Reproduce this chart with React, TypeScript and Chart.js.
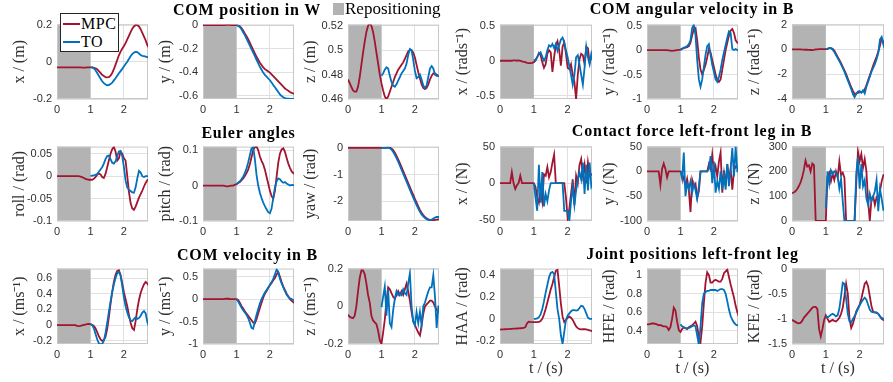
import React, { useEffect, useRef } from "react";
import { Chart, registerables } from "chart.js";
Chart.register(...registerables);

// ---------------- data ----------------
const T = [0, 0.05, 0.1, 0.15, 0.2, 0.25, 0.3, 0.35, 0.4, 0.45, 0.5, 0.55, 0.6, 0.65, 0.7, 0.75, 0.8, 0.85, 0.9, 0.95, 1, 1.05, 1.1, 1.15, 1.2, 1.25, 1.3, 1.35, 1.4, 1.45, 1.5, 1.55, 1.6, 1.65, 1.7, 1.75, 1.8, 1.85, 1.9, 1.95, 2, 2.05, 2.1, 2.15, 2.2, 2.25, 2.3, 2.35, 2.4, 2.45, 2.5, 2.55, 2.6, 2.65, 2.7, 2.75];
const TO_START = 20; // TO series starts at t = 1 s
const REPOSITIONING = [0, 1];
const X_TICKS = [0, 1, 2];
const X_RANGE = [0, 2.72];

// COM position in W
const POS_X_MPC = [-0.03, -0.03, -0.03, -0.03, -0.03, -0.03, -0.03, -0.03, -0.03, -0.03, -0.03, -0.03, -0.03, -0.03, -0.03, -0.031, -0.031, -0.031, -0.03, -0.03, -0.03, -0.03, -0.032, -0.035, -0.04, -0.05, -0.06, -0.07, -0.077, -0.082, -0.084, -0.083, -0.075, -0.06, -0.04, -0.015, 0.01, 0.035, 0.055, 0.07, 0.085, 0.1, 0.12, 0.14, 0.16, 0.178, 0.19, 0.198, 0.197, 0.19, 0.175, 0.155, 0.135, 0.115, 0.09, 0.075];
const POS_X_TO = [-0.03, -0.03, -0.035, -0.045, -0.06, -0.075, -0.09, -0.105, -0.115, -0.122, -0.126, -0.125, -0.12, -0.112, -0.1, -0.088, -0.075, -0.062, -0.05, -0.038, -0.025, -0.012, 0, 0.015, 0.03, 0.042, 0.05, 0.053, 0.052, 0.045, 0.037, 0.032, 0.03, 0.028, 0.025, 0.024];
const POS_X_TICKS = [-0.2, 0, 0.2];
const POS_X_RANGE = [-0.2, 0.2];

const POS_Y_MPC = [0, 0, 0, 0, 0, 0, 0, 0, 0, 0, 0, 0, 0, 0, 0.002, 0.002, 0.002, 0.001, 0, 0, 0, -0.003, -0.01, -0.025, -0.045, -0.07, -0.095, -0.12, -0.15, -0.18, -0.21, -0.24, -0.27, -0.295, -0.32, -0.34, -0.36, -0.375, -0.385, -0.395, -0.405, -0.42, -0.435, -0.45, -0.465, -0.48, -0.495, -0.51, -0.525, -0.54, -0.55, -0.56, -0.57, -0.578, -0.583, -0.588];
const POS_Y_TO = [0, -0.005, -0.015, -0.035, -0.06, -0.085, -0.115, -0.145, -0.175, -0.205, -0.235, -0.265, -0.295, -0.325, -0.355, -0.38, -0.405, -0.425, -0.44, -0.455, -0.47, -0.49, -0.51, -0.53, -0.55, -0.57, -0.59, -0.605, -0.615, -0.622, -0.626, -0.628, -0.63, -0.63, -0.63, -0.63];
const POS_Y_TICKS = [-0.6, -0.4, -0.2, 0];
const POS_Y_RANGE = [-0.63, 0.005];

const POS_Z_MPC = [0.476, 0.473, 0.47, 0.467, 0.466, 0.466, 0.47, 0.478, 0.488, 0.498, 0.507, 0.515, 0.52, 0.522, 0.52, 0.515, 0.507, 0.498, 0.489, 0.48, 0.473, 0.467, 0.462, 0.46, 0.462, 0.466, 0.47, 0.474, 0.478, 0.481, 0.484, 0.486, 0.488, 0.49, 0.493, 0.496, 0.499, 0.5, 0.5, 0.498, 0.494, 0.488, 0.482, 0.477, 0.472, 0.469, 0.468, 0.469, 0.472, 0.476, 0.479, 0.481, 0.481, 0.48, 0.479, 0.479];
const POS_Z_TO = [0.479, 0.481, 0.484, 0.486, 0.485, 0.479, 0.474, 0.471, 0.47, 0.472, 0.475, 0.478, 0.481, 0.483, 0.485, 0.489, 0.496, 0.501, 0.5, 0.492, 0.483, 0.477, 0.478, 0.48, 0.476, 0.471, 0.469, 0.471, 0.478, 0.485, 0.487, 0.485, 0.48, 0.479, 0.479, 0.479];
const POS_Z_TICKS = [0.46, 0.48, 0.5, 0.52];
const POS_Z_RANGE = [0.46, 0.521];

// COM angular velocity in B
const ANG_X_MPC = [0, 0, 0, 0, 0, 0, 0, 0, 0.005, 0.005, 0, 0.005, 0, -0.01, -0.015, -0.02, -0.03, -0.035, -0.035, -0.03, -0.02, 0, 0.05, 0.11, 0.08, -0.02, -0.1, -0.05, 0.1, 0.15, 0.12, -0.16, 0.05, 0.22, 0.28, 0.15, -0.07, 0.2, 0.26, 0.1, -0.1, -0.12, -0.05, -0.2, -0.3, -0.55, -0.2, 0.02, 0.1, 0.08, -0.05, 0.2, 0.18, -0.03, 0.05, 0.02];
const ANG_X_TO = [0, 0.02, 0.05, 0.1, 0.12, 0.06, 0, 0.05, 0.15, 0.22, 0.2, 0.24, 0.18, 0.24, 0.14, 0.22, 0.3, 0.33, 0.26, 0.15, 0.05, -0.08, -0.2, -0.34, -0.2, 0.05, 0.08, -0.05, -0.2, -0.34, -0.1, 0.2, 0.05, -0.05, 0.1, 0];
const ANG_X_TICKS = [-0.5, 0, 0.5];
const ANG_X_RANGE = [-0.545, 0.515];

const ANG_Y_MPC = [0, 0, 0, 0, 0, 0, 0, 0, 0, 0, 0, 0, 0, -0.005, -0.01, -0.015, -0.01, -0.005, 0, 0.005, 0.01, 0.03, 0.04, 0.05, 0.06, 0.08, 0.15, 0.3, 0.43, 0.45, 0.2, -0.15, -0.4, -0.5, -0.4, -0.3, -0.15, 0.02, -0.05, -0.2, -0.35, -0.5, -0.6, -0.65, -0.6, -0.4, -0.2, 0, 0.15, 0.3, 0.4, 0.43, 0.35, 0.2, 0.15, 0.14];
const ANG_Y_TO = [0, 0.02, 0.05, 0.06, 0.08, 0.12, 0.2, 0.45, 0.52, 0.3, -0.2, -0.6, -0.75, -0.6, -0.35, -0.1, 0.08, 0.12, -0.1, -0.3, -0.45, -0.6, -0.65, -0.55, -0.4, -0.2, -0.05, 0.1, 0.25, 0.38, 0.35, 0.02, 0, 0.02, 0, 0];
const ANG_Y_TICKS = [-1, -0.5, 0, 0.5];
const ANG_Y_RANGE = [-1, 0.52];

const ANG_Z_MPC = [0, 0, 0, 0, 0, 0, -0.01, -0.02, -0.03, -0.03, -0.04, -0.05, -0.05, -0.03, 0, 0.01, 0.02, 0.03, 0.03, 0.02, 0.02, 0.05, 0.1, 0.1, 0.05, -0.1, -0.35, -0.6, -0.85, -1.1, -1.4, -1.7, -2, -2.35, -2.7, -3.05, -3.35, -3.6, -3.55, -3.5, -3.45, -3.45, -3.4, -3.25, -2.9, -2.5, -2.1, -1.7, -1.3, -0.95, -0.6, -0.2, 0.3, 0.9, 0.6, 0.25];
const ANG_Z_TO = [0.02, 0.05, 0.12, 0.1, 0, -0.2, -0.45, -0.7, -0.95, -1.2, -1.5, -1.8, -2.15, -2.5, -2.85, -3.2, -3.6, -3.85, -3.6, -3.4, -3.35, -3.5, -3.3, -3.55, -3, -2.6, -2.2, -1.8, -1.5, -1.2, -0.8, -0.3, 0.8, 1, 0.4, 0];
const ANG_Z_TICKS = [-4, -2, 0, 2];
const ANG_Z_RANGE = [-4, 2];

// Euler angles
const ROLL_MPC = [0, 0, 0, 0, 0, 0, 0, 0, 0, 0, 0, 0, 0, 0, -0.001, -0.002, -0.004, -0.006, -0.007, -0.008, -0.008, -0.008, -0.006, -0.002, 0.003, 0.006, 0.004, -0.002, -0.004, 0.005, 0.02, 0.035, 0.05, 0.06, 0.065, 0.055, 0.035, 0.04, 0.055, 0.05, 0.04, 0.035, 0, -0.035, -0.06, -0.072, -0.075, -0.068, -0.058, -0.048, -0.04, -0.032, -0.023, -0.015, -0.009, -0.007];
const ROLL_TO = [0, 0.001, 0.002, 0.003, 0.005, 0.01, 0.015, 0.02, 0.028, 0.038, 0.045, 0.046, 0.038, 0.03, 0.028, 0.033, 0.045, 0.055, 0.056, 0.045, 0.02, -0.01, -0.025, -0.03, -0.033, -0.036, -0.037, -0.025, -0.005, 0.012, 0.008, 0, -0.002, 0, 0, 0];
const ROLL_TICKS = [-0.1, -0.05, 0, 0.05];
const ROLL_RANGE = [-0.1, 0.066];

const PITCH_MPC = [0, 0, 0, 0, 0, 0, 0, 0, 0, 0, 0, 0, 0, -0.001, -0.002, -0.002, -0.001, 0, 0, 0.002, 0.004, 0.007, 0.01, 0.015, 0.02, 0.027, 0.035, 0.045, 0.06, 0.08, 0.1, 0.108, 0.11, 0.1, 0.082, 0.07, 0.06, 0.045, 0.025, 0.005, -0.015, -0.03, -0.037, -0.015, 0.025, 0.065, 0.09, 0.102, 0.105, 0.095, 0.078, 0.062, 0.05, 0.04, 0.035, 0.033];
const PITCH_TO = [0.004, 0.008, 0.012, 0.018, 0.025, 0.035, 0.048, 0.065, 0.085, 0.105, 0.108, 0.075, 0.03, 0, -0.02, -0.035, -0.048, -0.058, -0.067, -0.075, -0.078, -0.065, -0.035, -0.005, 0.012, 0.02, 0.018, 0.012, 0.008, 0.01, 0.006, 0.003, 0, 0.002, 0.001, 0];
const PITCH_TICKS = [-0.1, 0, 0.1];
const PITCH_RANGE = [-0.1, 0.11];

const YAW_MPC = [0, 0, 0, 0, 0, 0, 0, 0, 0, 0, 0, 0, 0, 0, 0, 0, 0, 0, 0, 0, 0, 0, 0.005, 0.01, 0.01, 0.01, -0.02, -0.08, -0.18, -0.3, -0.43, -0.57, -0.72, -0.87, -1.02, -1.17, -1.32, -1.47, -1.62, -1.77, -1.92, -2.06, -2.2, -2.33, -2.44, -2.53, -2.6, -2.65, -2.69, -2.71, -2.72, -2.72, -2.71, -2.7, -2.69, -2.68];
const YAW_TO = [0, 0, 0, 0.005, 0.01, -0.01, -0.06, -0.15, -0.26, -0.38, -0.52, -0.67, -0.82, -0.97, -1.12, -1.27, -1.42, -1.57, -1.72, -1.87, -2.01, -2.15, -2.28, -2.4, -2.5, -2.58, -2.64, -2.68, -2.71, -2.72, -2.7, -2.66, -2.62, -2.6, -2.6, -2.6];
const YAW_TICKS = [-2, -1, 0];
const YAW_RANGE = [-2.75, 0.05];

// Contact force left-front leg in B
const FX_MPC = [0, 0, 0, 0, 0, 0, 0, 15, 0, -8, -3, 0, 10, 0, 0, 0, 0, 0, 0, 0, 0, -5, -20, -27, -10, -25, 12, 10, 22, 8, 15, 28, 39, 0, 0, 0, 0, 0, 0, -20, -48, -35, -15, 5, -30, 10, 0, 25, 33, 10, 25, 0, 28, 10, 12, 10];
const FX_TO = [0, -20, -38, 25, -27, 15, -32, -15, -25, -10, 0, 0, 0, 0, 0, 0, 0, 0, -38, -38, -38, -52, -25, -5, -30, -10, 5, 15, 5, 28, -15, 25, -10, 28, -5, 0];
const FX_TICKS = [-50, 0, 50];
const FX_RANGE = [-52, 50];

const FY_MPC = [0, 0, 0, 0, 0, 0, 0, 0, -27, 5, 16, 5, -12, 0, 0, 0, 0, 0, 0, 0, 0, -5, -15, -30, -15, -37, -82, -17, -30, -25, -53, -40, 0, 0, 0, 0, 0, 15, 5, 34, -5, 10, -10, 20, 38, -43, 2, -30, 15, -17, 5, -37, 2, 10, 8, 8];
const FY_TO = [0, -15, 38, -50, -25, -35, -20, -43, -25, -38, -55, -30, 0, 0, 0, 0, 0, 5, 31, -24, 20, -43, -20, -35, 0, -37, -5, -37, 15, -30, 5, 47, -10, 50, 0, 0];
const FY_TICKS = [-100, -50, 0, 50];
const FY_RANGE = [-100, 50];

const FZ_MPC = [112, 115, 120, 128, 140, 155, 175, 205, 244, 220, 225, 200, 232, 225, 0, 0, 0, 0, 0, 0, 0, 180, 195, 160, 190, 165, 200, 175, 240, 185, 195, 175, 0, 0, 0, 0, 0, 0, 150, 280, 240, 270, 215, 250, 200, 80, 0, 90, 100, 65, 95, 85, 120, 160, 185, 185];
const FZ_TO = [50, 200, 150, 205, 190, 200, 195, 180, 130, 170, 80, 0, 0, 0, 0, 0, 0, 0, 193, 257, 130, 230, 140, 165, 90, 65, 110, 80, 100, 120, 165, 40, 130, 90, 45, 45];
const FZ_TICKS = [0, 100, 200, 300];
const FZ_RANGE = [0, 300];

// COM velocity in B
const VEL_X_MPC = [0, 0, 0, 0, 0, 0, 0, 0, 0, 0, 0, 0, -0.01, -0.012, -0.01, -0.003, 0.003, 0.008, 0.012, 0.015, 0.012, 0.005, -0.01, -0.04, -0.09, -0.14, -0.18, -0.2, -0.19, -0.15, -0.05, 0.1, 0.27, 0.42, 0.55, 0.64, 0.69, 0.7, 0.64, 0.53, 0.42, 0.33, 0.24, 0.13, 0.03, -0.04, -0.06, 0.05, 0.2, 0.32, 0.41, 0.47, 0.52, 0.55, 0.53, 0.5];
const VEL_X_TO = [0.012, 0, -0.04, -0.11, -0.18, -0.23, -0.245, -0.24, -0.2, -0.1, 0.03, 0.17, 0.3, 0.42, 0.52, 0.6, 0.66, 0.68, 0.63, 0.5, 0.35, 0.24, 0.16, 0.1, 0.06, 0.05, 0.08, 0.1, 0.08, 0.09, 0.12, 0.16, 0.18, 0.15, 0.04, -0.02];
const VEL_X_TICKS = [-0.2, 0, 0.2, 0.4, 0.6];
const VEL_X_RANGE = [-0.24, 0.72];

const VEL_Y_MPC = [0, 0, 0, 0, 0, 0, 0, 0, 0, 0, 0, 0, 0, 0.005, 0.01, 0.008, 0.003, 0, 0, 0, 0, -0.02, -0.08, -0.15, -0.21, -0.27, -0.32, -0.37, -0.42, -0.47, -0.52, -0.54, -0.45, -0.32, -0.2, -0.08, 0.03, 0.12, 0.18, 0.25, 0.31, 0.36, 0.42, 0.47, 0.55, 0.6, 0.5, 0.38, 0.28, 0.2, 0.12, 0.06, 0, -0.04, -0.07, -0.09];
const VEL_Y_TO = [0, -0.05, -0.12, -0.19, -0.25, -0.3, -0.35, -0.42, -0.52, -0.64, -0.66, -0.5, -0.35, -0.22, -0.1, 0, 0.08, 0.15, 0.2, 0.26, 0.32, 0.38, 0.45, 0.55, 0.66, 0.6, 0.45, 0.35, 0.26, 0.18, 0.1, 0.05, 0.02, 0, -0.02, -0.03];
const VEL_Y_TICKS = [-1, -0.5, 0, 0.5];
const VEL_Y_RANGE = [-1, 0.68];

const VEL_Z_MPC = [-0.045, -0.055, -0.06, -0.063, -0.05, 0, 0.08, 0.15, 0.19, 0.19, 0.17, 0.12, 0.06, 0.02, -0.05, -0.075, -0.085, -0.095, -0.13, -0.18, -0.2, -0.14, -0.07, 0.03, 0.1, 0.09, 0.07, 0.05, 0.04, 0.06, 0.08, 0.06, 0.08, 0.06, 0.09, 0.12, 0.08, 0.03, -0.03, -0.08, -0.1, -0.12, -0.14, -0.155, -0.1, -0.04, 0, 0.01, 0.02, 0.03, 0.03, 0.02, 0, -0.02, -0.03, -0.03];
const VEL_Z_TO = [-0.005, 0.05, 0.105, -0.05, 0.09, -0.09, -0.11, -0.02, 0.04, 0.08, 0.06, 0.07, 0.06, 0.09, 0.07, 0.06, 0.12, 0.175, 0, -0.08, -0.1, -0.03, -0.09, -0.03, -0.1, 0, 0.02, 0.05, 0.08, 0.1, 0.1, 0.165, 0.05, -0.115, 0, 0];
const VEL_Z_TICKS = [-0.2, 0, 0.2];
const VEL_Z_RANGE = [-0.2, 0.2];

// Joint positions left-front leg
const HAA_MPC = [-0.098, -0.097, -0.096, -0.095, -0.094, -0.093, -0.092, -0.091, -0.09, -0.089, -0.088, -0.087, -0.086, -0.085, -0.083, -0.075, -0.04, -0.025, -0.028, -0.03, -0.03, -0.03, -0.03, -0.028, -0.02, 0, 0.04, 0.09, 0.15, 0.21, 0.27, 0.32, 0.38, 0.44, 0.45, 0.3, 0.14, 0.02, -0.03, -0.01, 0.01, 0.02, 0.01, -0.01, -0.04, -0.07, -0.085, -0.095, -0.097, -0.095, -0.095, -0.096, -0.1, -0.105, -0.11, -0.112];
const HAA_TO = [0, 0, 0.005, 0.015, 0.04, 0.09, 0.16, 0.24, 0.31, 0.38, 0.42, 0.43, 0.41, 0.25, 0.09, 0, -0.15, -0.23, -0.12, -0.01, 0.03, 0.05, 0.07, 0.08, 0.08, 0.075, 0.08, 0.1, 0.12, 0.115, 0.09, 0.05, 0.01, 0, 0, 0];
const HAA_TICKS = [-0.2, 0, 0.2, 0.4];
const HAA_RANGE = [-0.23, 0.46];

const HFE_MPC = [0.47, 0.47, 0.475, 0.48, 0.48, 0.475, 0.47, 0.46, 0.465, 0.455, 0.45, 0.45, 0.44, 0.41, 0.44, 0.53, 0.65, 0.62, 0.5, 0.41, 0.39, 0.42, 0.44, 0.43, 0.42, 0.44, 0.45, 0.46, 0.48, 0.5, 0.45, 0.33, 0.28, 0.45, 0.7, 0.92, 1.03, 1, 0.92, 0.92, 0.94, 0.95, 0.94, 0.93, 0.93, 0.96, 1.02, 1.04, 1.06, 0.98, 0.9, 0.83, 0.76, 0.67, 0.6, 0.55];
const HFE_TO = [0.47, 0.45, 0.44, 0.43, 0.43, 0.43, 0.44, 0.45, 0.46, 0.45, 0.35, 0.25, 0.45, 0.7, 0.8, 0.82, 0.83, 0.83, 0.84, 0.84, 0.84, 0.84, 0.83, 0.84, 0.85, 0.85, 0.84, 0.8, 0.72, 0.63, 0.56, 0.52, 0.49, 0.47, 0.46, 0.46];
const HFE_TICKS = [0.4, 0.6, 0.8, 1];
const HFE_RANGE = [0.26, 1.07];

const KFE_MPC = [-1.02, -1.04, -1.06, -1.08, -1.09, -1.08, -1.04, -0.98, -0.94, -0.9, -0.86, -0.82, -0.78, -0.76, -0.76, -0.8, -1.2, -1.35, -1.2, -1.02, -0.93, -1, -1.06, -1.04, -1.02, -1.04, -1.05, -1.02, -0.98, -0.9, -0.78, -0.55, -0.3, -0.5, -1, -1.18, -1.1, -0.98, -0.85, -0.78, -0.72, -0.6, -0.45, -0.3, -0.26, -0.35, -0.55, -0.75, -0.86, -0.87, -0.88, -0.9, -0.95, -1, -1.02, -1.03];
const KFE_TO = [-0.95, -0.97, -0.95, -0.92, -0.9, -0.92, -0.95, -0.93, -0.8, -0.55, -0.28, -0.3, -0.6, -0.9, -1.05, -1.07, -1, -0.95, -0.88, -0.8, -0.73, -0.67, -0.62, -0.58, -0.62, -0.72, -0.82, -0.86, -0.87, -0.87, -0.87, -0.9, -0.95, -0.98, -1, -1];
const KFE_TICKS = [-1.5, -1, -0.5, 0];
const KFE_RANGE = [-1.5, 0];

// ---------------- styling ----------------
const RED = "#A2142F";
const BLUE = "#0072BD";
const SHADE = "#b3b3b3";
const GRID = "#e0e0e0";
const FRAME = "#c8c8c8";
const TXT = "#303030";
const SERIF = "'Liberation Serif', 'Times New Roman', serif";
const SANS = "'Liberation Sans', Arial, sans-serif";

type PanelDef = { label: string; mpc: number[]; to: number[]; ticks: number[]; range: number[] };

const PANELS: PanelDef[][] = [
  [
    { label: "x / (m)", mpc: POS_X_MPC, to: POS_X_TO, ticks: POS_X_TICKS, range: POS_X_RANGE },
    { label: "y / (m)", mpc: POS_Y_MPC, to: POS_Y_TO, ticks: POS_Y_TICKS, range: POS_Y_RANGE },
    { label: "z / (m)", mpc: POS_Z_MPC, to: POS_Z_TO, ticks: POS_Z_TICKS, range: POS_Z_RANGE },
    { label: "x / (rads\u207B\u00B9)", mpc: ANG_X_MPC, to: ANG_X_TO, ticks: ANG_X_TICKS, range: ANG_X_RANGE },
    { label: "y / (rads\u207B\u00B9)", mpc: ANG_Y_MPC, to: ANG_Y_TO, ticks: ANG_Y_TICKS, range: ANG_Y_RANGE },
    { label: "z / (rads\u207B\u00B9)", mpc: ANG_Z_MPC, to: ANG_Z_TO, ticks: ANG_Z_TICKS, range: ANG_Z_RANGE },
  ],
  [
    { label: "roll / (rad)", mpc: ROLL_MPC, to: ROLL_TO, ticks: ROLL_TICKS, range: ROLL_RANGE },
    { label: "pitch / (rad)", mpc: PITCH_MPC, to: PITCH_TO, ticks: PITCH_TICKS, range: PITCH_RANGE },
    { label: "yaw / (rad)", mpc: YAW_MPC, to: YAW_TO, ticks: YAW_TICKS, range: YAW_RANGE },
    { label: "x / (N)", mpc: FX_MPC, to: FX_TO, ticks: FX_TICKS, range: FX_RANGE },
    { label: "y / (N)", mpc: FY_MPC, to: FY_TO, ticks: FY_TICKS, range: FY_RANGE },
    { label: "z / (N)", mpc: FZ_MPC, to: FZ_TO, ticks: FZ_TICKS, range: FZ_RANGE },
  ],
  [
    { label: "x / (ms\u207B\u00B9)", mpc: VEL_X_MPC, to: VEL_X_TO, ticks: VEL_X_TICKS, range: VEL_X_RANGE },
    { label: "y / (ms\u207B\u00B9)", mpc: VEL_Y_MPC, to: VEL_Y_TO, ticks: VEL_Y_TICKS, range: VEL_Y_RANGE },
    { label: "z / (ms\u207B\u00B9)", mpc: VEL_Z_MPC, to: VEL_Z_TO, ticks: VEL_Z_TICKS, range: VEL_Z_RANGE },
    { label: "HAA / (rad)", mpc: HAA_MPC, to: HAA_TO, ticks: HAA_TICKS, range: HAA_RANGE },
    { label: "HFE / (rad)", mpc: HFE_MPC, to: HFE_TO, ticks: HFE_TICKS, range: HFE_RANGE },
    { label: "KFE / (rad)", mpc: KFE_MPC, to: KFE_TO, ticks: KFE_TICKS, range: KFE_RANGE },
  ],
];

const TITLES = [
  { text: "COM position in W", cx: 247, cy: 10 },
  { text: "COM angular velocity in B", cx: 692, cy: 9 },
  { text: "Euler angles", cx: 248.5, cy: 132.5 },
  { text: "Contact force left-front leg in B", cx: 692, cy: 131 },
  { text: "COM velocity in B", cx: 247.5, cy: 255 },
  { text: "Joint positions left-front leg", cx: 692.5, cy: 254 },
];

const COL_LEFT = [57, 203, 348, 500, 647, 792];
const COL_W = [91, 91, 91, 92, 91, 92];
const ROW_TOP = [21, 143, 265];
const ROW_H = [78, 78, 79];

const YW = 60;
const PAD_T = 8;
const PAD_R = 8;

const shadeFrame = {
  id: "shadeFrame",
  beforeDatasetsDraw(chart: any) {
    const { ctx, chartArea, scales } = chart;
    const x0 = scales.x.getPixelForValue(REPOSITIONING[0]);
    const x1 = scales.x.getPixelForValue(REPOSITIONING[1]);
    ctx.save();
    ctx.fillStyle = SHADE;
    ctx.fillRect(x0, chartArea.top, x1 - x0, chartArea.bottom - chartArea.top);
    ctx.strokeStyle = FRAME;
    ctx.lineWidth = 1;
    ctx.strokeRect(chartArea.left + 0.5, chartArea.top + 0.5, chartArea.right - chartArea.left - 1, chartArea.bottom - chartArea.top - 1);
    ctx.restore();
  },
};

function Panel({ p, left, top, w, h, xTitle }: { p: PanelDef; left: number; top: number; w: number; h: number; xTitle: boolean }) {
  const ref = useRef<HTMLCanvasElement>(null);
  const XH = xTitle ? 40 : 22;
  const cw = w + YW + PAD_R;
  const ch = h + PAD_T + XH;
  useEffect(() => {
    const chart = new Chart(ref.current as HTMLCanvasElement, {
      type: "line",
      data: {
        datasets: [
          {
            label: "MPC",
            data: T.map((t, i) => ({ x: t, y: p.mpc[i] })),
            borderColor: RED,
            borderWidth: 1.8,
            pointRadius: 0,
            tension: 0,
            order: 1,
          },
          {
            label: "TO",
            data: T.slice(TO_START).map((t, i) => ({ x: t, y: p.to[i] })),
            borderColor: BLUE,
            borderWidth: 1.8,
            pointRadius: 0,
            tension: 0,
            order: 0,
          },
        ],
      },
      options: {
        responsive: false,
        maintainAspectRatio: false,
        animation: false,
        events: [],
        layout: { padding: { top: PAD_T, right: PAD_R, left: 0, bottom: 0 } },
        plugins: { legend: { display: false }, tooltip: { enabled: false } },
        scales: {
          x: {
            type: "linear",
            min: X_RANGE[0],
            max: X_RANGE[1],
            afterBuildTicks: (s: any) => {
              s.ticks = X_TICKS.map((v) => ({ value: v }));
            },
            afterFit: (s: any) => {
              s.height = XH;
            },
            grid: { color: GRID, drawTicks: false, lineWidth: 1 },
            border: { display: false },
            ticks: {
              padding: 4,
              maxRotation: 0,
              autoSkip: false,
              color: TXT,
              font: { family: SANS, size: 11 },
              callback: (v: any) => String(v),
            },
            title: {
              display: xTitle,
              text: "t / (s)",
              color: TXT,
              font: { family: SERIF, size: 16 },
              padding: { top: 0, bottom: 6 },
            },
          },
          y: {
            type: "linear",
            min: p.range[0],
            max: p.range[1],
            afterBuildTicks: (s: any) => {
              s.ticks = p.ticks.map((v) => ({ value: v }));
            },
            afterFit: (s: any) => {
              s.width = YW;
            },
            grid: { color: GRID, drawTicks: false, lineWidth: 1 },
            border: { display: false },
            ticks: {
              padding: 5,
              autoSkip: false,
              color: TXT,
              font: { family: SANS, size: 11 },
              callback: (v: any) => String(v),
            },
            title: {
              display: true,
              text: p.label,
              color: TXT,
              font: { family: SERIF, size: 16 },
              padding: { top: 13, bottom: 0 },
            },
          },
        },
      } as any,
      plugins: [shadeFrame],
    });
    return () => chart.destroy();
  }, []);
  return (
    <canvas
      ref={ref}
      width={cw}
      height={ch}
      style={{ position: "absolute", left: left - YW, top: top - PAD_T, width: cw, height: ch }}
    />
  );
}

export default function App() {
  return (
    <div
      style={{
        position: "absolute",
        left: 0,
        top: 0,
        width: 893,
        height: 382,
        overflow: "hidden",
        background: "#ffffff",
      }}
    >
      {PANELS.map((row, r) =>
        row.map((p, c) => (
          <Panel
            key={`${r}-${c}`}
            p={p}
            left={COL_LEFT[c]}
            top={ROW_TOP[r]}
            w={COL_W[c]}
            h={ROW_H[r]}
            xTitle={r === 2 && c >= 3}
          />
        ))
      )}
      {TITLES.map((t) => (
        <div
          key={t.text}
          style={{
            position: "absolute",
            left: t.cx,
            top: t.cy,
            transform: "translate(-50%, -50%)",
            whiteSpace: "nowrap",
            fontFamily: SERIF,
            fontWeight: "bold",
            fontSize: 16,
            letterSpacing: 0.8,
            lineHeight: 1,
            color: "#000",
          }}
        >
          {t.text}
        </div>
      ))}
      {/* Repositioning legend */}
      <div style={{ position: "absolute", left: 333, top: 3, width: 11, height: 12, background: SHADE }} />
      <div
        style={{
          position: "absolute",
          left: 345,
          top: 8,
          transform: "translateY(-50%)",
          whiteSpace: "nowrap",
          fontFamily: SERIF,
          fontSize: 17,
          lineHeight: 1,
          color: "#000",
        }}
      >
        Repositioning
      </div>
      {/* MPC / TO legend */}
      <div
        style={{
          position: "absolute",
          left: 60,
          top: 13,
          width: 59,
          height: 39,
          background: "#fff",
          border: "1px solid #262626",
          boxSizing: "border-box",
          zIndex: 2,
        }}
      >
        <div style={{ position: "absolute", left: 2, top: 9, width: 17, height: 2, background: RED }} />
        <div
          style={{
            position: "absolute",
            left: 20,
            top: 10,
            transform: "translateY(-50%)",
            fontFamily: SERIF,
            fontSize: 16,
            lineHeight: 1,
            letterSpacing: 0.5,
            color: "#000",
          }}
        >
          MPC
        </div>
        <div style={{ position: "absolute", left: 2, top: 27, width: 17, height: 2, background: BLUE }} />
        <div
          style={{
            position: "absolute",
            left: 20,
            top: 28,
            transform: "translateY(-50%)",
            fontFamily: SERIF,
            fontSize: 16,
            lineHeight: 1,
            letterSpacing: 0.5,
            color: "#000",
          }}
        >
          TO
        </div>
      </div>
    </div>
  );
}
